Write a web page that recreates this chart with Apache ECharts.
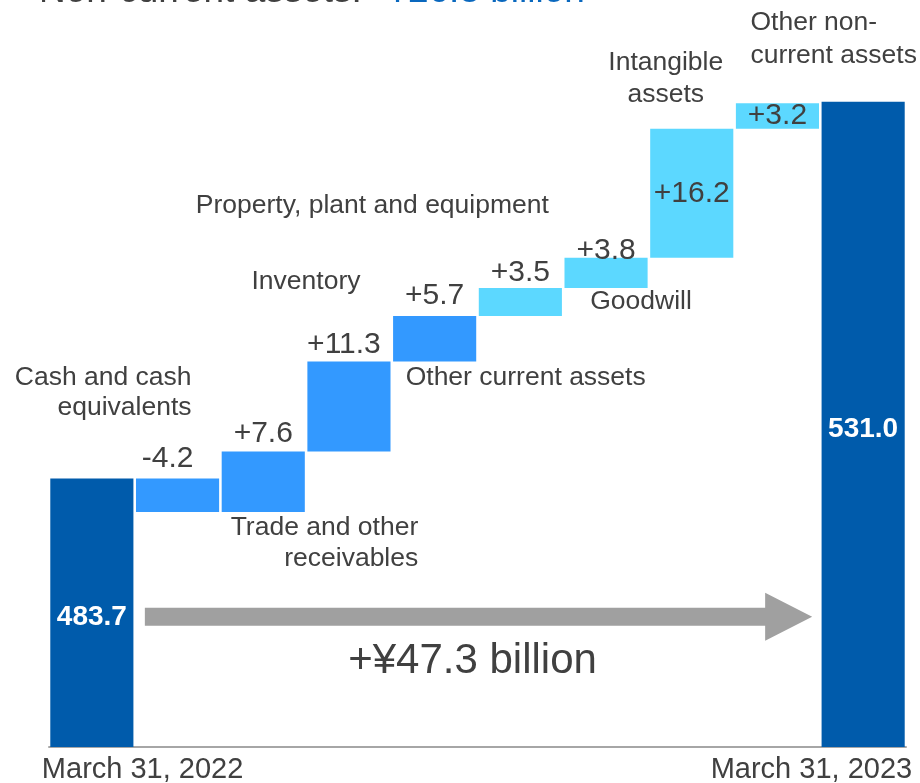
<!DOCTYPE html>
<html>
<head>
<meta charset="utf-8">
<script src="https://cdn.jsdelivr.net/npm/echarts/dist/echarts.min.js"></script>
<style>
  html, body { margin: 0; padding: 0; background: #fff; }
  #chart { width: 920px; height: 783px; }
</style>
</head>
<body>
<div id="chart"></div>
<script>
// ---- data ----
const categories = [
  'March 31, 2022', 'Cash and cash equivalents', 'Trade and other receivables', 'Inventory',
  'Other current assets', 'Property, plant and equipment', 'Goodwill', 'Intangible assets',
  'Other non-current assets', 'March 31, 2023'
];
const openingTotal = 483.7;
const closingTotal = 531.0;
const changes = [-4.2, 7.6, 11.3, 5.7, 3.5, 3.8, 16.2, 3.2];
const changeGroups = ['current', 'current', 'current', 'current', 'nonCurrent', 'nonCurrent', 'nonCurrent', 'nonCurrent'];
const stepLabels = [
  'Cash and cash\nequivalents', 'Trade and other\nreceivables', 'Inventory', 'Other current assets',
  'Property, plant and equipment', 'Goodwill', 'Intangible\nassets', 'Other non-\ncurrent assets'
];
const dateLabels = ['March 31, 2022', 'March 31, 2023'];
const titleText = 'Non-current assets:';
const titleAmount = '+¥26.8 billion';

// ---- styles ----
const FONT = "'Liberation Sans', Arial, Helvetica, sans-serif";
const TEXT = '#404040';
const COLORS = { total: '#005BAB', current: '#3399FF', nonCurrent: '#5CD8FF' };

// value label nudges (px) for labels placed above each change bar; null = inside bar
const valueLabelNudge = [[-10, -5], [0, -3], [-5, -2], [0, -5], [0, 0], [0, 8], null, null];
// step-name placement relative to each change bar: edge, dx, dy, align, lineHeight
const stepLabelLayout = [
  ['top', 14, -86, 'right', 30],
  ['bottom', 155, 31, 'right', 31],
  ['top', -43, -80, 'center', 30],
  ['bottom', -29, 16, 'left', 30],
  ['top', -148, -82, 'center', 30],
  ['bottom', 35, 14, 'center', 30],
  ['top', -26, -50, 'center', 32],
  ['top', -27, -64, 'left', 33]
];

// ---- waterfall construction ----
const baseData = ['-'];
const deltaData = ['-'];
const stepTop = [], stepBottom = [];
let level = openingTotal;
changes.forEach((c, i) => {
  const next = +(level + c).toFixed(1);
  const lo = Math.min(level, next), hi = Math.max(level, next);
  stepTop.push(hi); stepBottom.push(lo);
  baseData.push(lo);
  const nudge = valueLabelNudge[i];
  deltaData.push({
    value: Math.abs(c),
    itemStyle: { color: COLORS[changeGroups[i]] },
    label: nudge ? { position: 'top', distance: 0, offset: nudge } : { position: 'inside' }
  });
  level = next;
});
baseData.push('-');
deltaData.push('-');
const totalData = categories.map((_, i) =>
  i === 0 ? openingTotal : (i === categories.length - 1 ? closingTotal : '-'));

const fmtChange = v => (v > 0 ? '+' : '') + v.toFixed(1);

const chart = echarts.init(document.getElementById('chart'), null, { renderer: 'canvas' });

chart.setOption({
  animation: false,
  backgroundColor: '#ffffff',
  grid: { left: 49, right: 14, top: 30, bottom: 36, containLabel: false },
  xAxis: {
    type: 'category',
    data: categories,
    axisLine: { show: true, lineStyle: { color: '#A6A6A6', width: 2 } },
    axisTick: { show: false },
    axisLabel: { show: false },
    splitLine: { show: false }
  },
  yAxis: {
    type: 'value',
    min: 450,
    max: 540,
    show: false,
    splitLine: { show: false }
  },
  series: [
    {
      name: 'base',
      type: 'bar',
      stack: 'wf',
      barCategoryGap: '3%',
      itemStyle: { color: 'transparent' },
      emphasis: { disabled: true },
      data: baseData
    },
    {
      name: 'change',
      type: 'bar',
      stack: 'wf',
      barCategoryGap: '3%',
      label: {
        show: true,
        fontFamily: FONT,
        fontSize: 30,
        lineHeight: 30,
        color: TEXT,
        formatter: p => fmtChange(changes[p.dataIndex - 1])
      },
      data: deltaData
    },
    {
      name: 'total',
      type: 'bar',
      stack: 'wf',
      barCategoryGap: '3%',
      itemStyle: { color: COLORS.total },
      label: {
        show: true,
        position: 'inside',
        offset: [0, 5],
        fontFamily: FONT,
        fontSize: 28,
        fontWeight: 'bold',
        color: '#ffffff',
        formatter: p => p.value.toFixed(1)
      },
      data: totalData
    }
  ]
});

// ---- annotations positioned from the axes ----
const px = (i, v) => chart.convertToPixel({ xAxisIndex: 0, yAxisIndex: 0 }, [i, v]);
const graphics = [];

// step names
stepLabels.forEach((txt, i) => {
  const [edge, dx, dy, align, lh] = stepLabelLayout[i];
  const p = px(i + 1, edge === 'top' ? stepTop[i] : stepBottom[i]);
  graphics.push({
    type: 'text', x: p[0] + dx, y: p[1] + dy, silent: true,
    style: { text: txt, fontFamily: FONT, fontSize: 26.5, lineHeight: lh, fill: TEXT, align: align, verticalAlign: 'middle' }
  });
});

// date labels under the opening and closing bars
const axisY = px(0, 450)[1];
const firstX = px(0, 450)[0], lastX = px(categories.length - 1, 450)[0];
graphics.push({
  type: 'text', x: firstX - 50, y: axisY + 23, silent: true,
  style: { text: dateLabels[0], fontFamily: FONT, fontSize: 29, fill: TEXT, align: 'left', verticalAlign: 'middle' }
});
graphics.push({
  type: 'text', x: lastX + 49, y: axisY + 23, silent: true,
  style: { text: dateLabels[1], fontFamily: FONT, fontSize: 29, fill: TEXT, align: 'right', verticalAlign: 'middle' }
});

// overall change arrow between the two totals
const openTopY = px(0, openingTotal)[1];
const arrowY = openTopY + 0.515 * (axisY - openTopY);
const ax0 = firstX + 53, ax1 = lastX - 51, headX = ax1 - 47;
graphics.push({
  type: 'polygon', silent: true,
  shape: { points: [
    [ax0, arrowY - 9], [headX, arrowY - 9], [headX, arrowY - 24], [ax1, arrowY],
    [headX, arrowY + 24], [headX, arrowY + 9], [ax0, arrowY + 9]
  ] },
  style: { fill: '#A0A0A0' }
});
graphics.push({
  type: 'text', x: (firstX + lastX) / 2 - 5, y: arrowY + 45, silent: true,
  style: { text: '+¥' + (closingTotal - openingTotal).toFixed(1) + ' billion', fontFamily: FONT, fontSize: 42,
    fill: TEXT, align: 'center', verticalAlign: 'middle' }
});

// heading
graphics.push({
  type: 'text', x: 39, y: -8, silent: true,
  style: {
    text: '{a|' + titleText + '}{gap| }{b|' + titleAmount + '}',
    verticalAlign: 'middle', align: 'left',
    rich: {
      a: { fontFamily: FONT, fontSize: 37, fill: TEXT, color: TEXT },
      gap: { fontFamily: FONT, fontSize: 14 },
      b: { fontFamily: FONT, fontSize: 37, fill: '#0A68BE', color: '#0A68BE' }
    }
  }
});

chart.setOption({ graphic: graphics });
</script>
</body>
</html>
